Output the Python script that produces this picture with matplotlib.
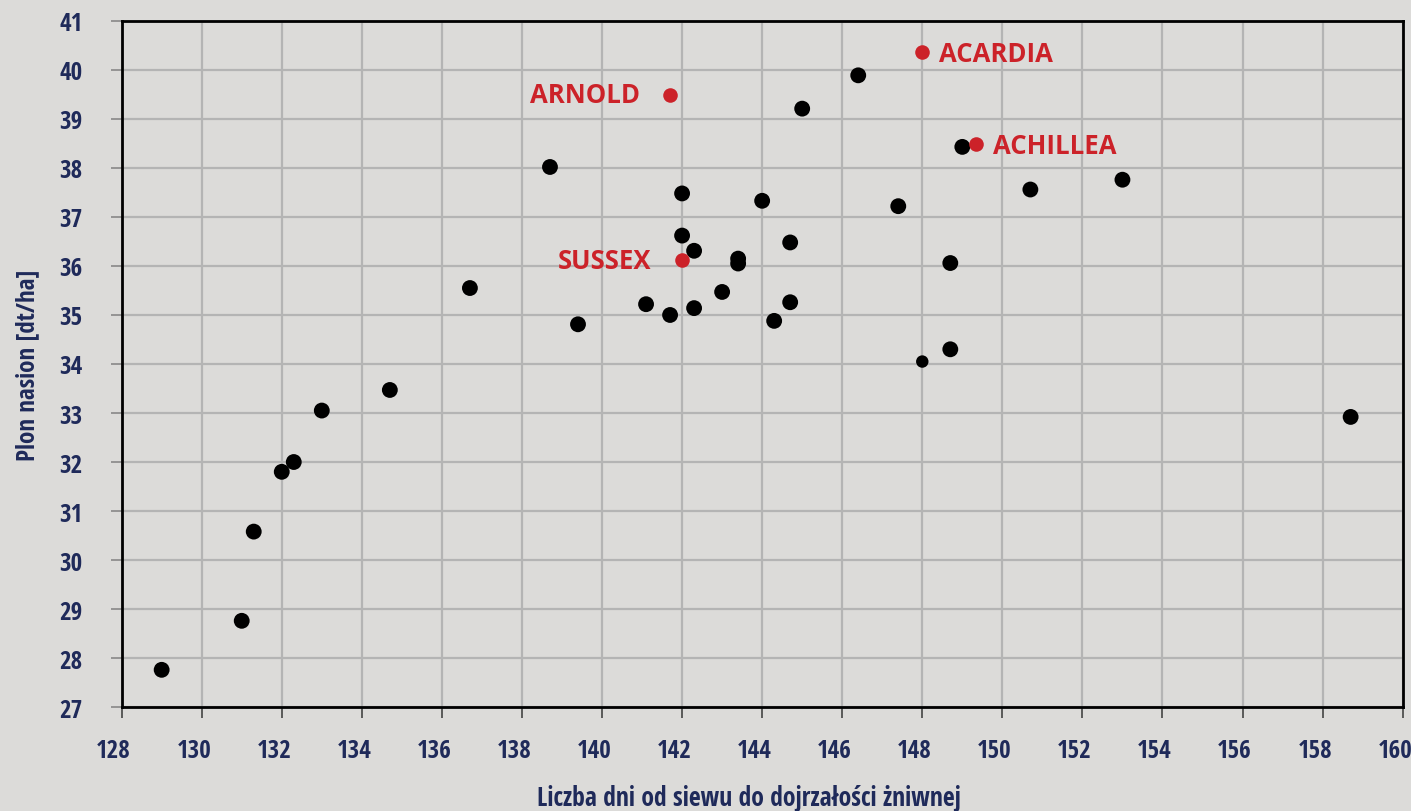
import matplotlib
matplotlib.use("Agg")
import matplotlib.pyplot as plt
import matplotlib.transforms as mtransforms

# black points: days from sowing to maturity, seed yield
days = [129.0, 131.0, 131.3, 132.0, 132.3, 133.0, 134.7, 136.7, 138.7, 139.4,
        141.1, 141.7, 142.0, 142.0, 142.3, 142.3, 143.0, 143.4, 143.4, 144.0,
        144.3, 144.7, 144.7, 145.0, 146.4, 147.4, 148.0, 148.7, 148.7, 149.0,
        150.7, 153.0, 158.7]
yields = [27.76, 28.76, 30.58, 31.80, 32.0, 33.05, 33.47, 35.55, 38.02, 34.81,
          35.22, 35.0, 37.48, 36.62, 36.31, 35.14, 35.47, 36.15, 36.05, 37.33,
          34.88, 36.48, 35.26, 39.21, 39.89, 37.22, 34.05, 36.06, 34.30, 38.43,
          37.56, 37.76, 32.92]
sizes = [130] * len(days)
sizes[26] = 80   # the smaller point near 148/34

# highlighted varieties
names = ["ARNOLD", "ACARDIA", "ACHILLEA", "SUSSEX"]
name_days = [141.7, 148.0, 149.35, 142.0]
name_yields = [39.49, 40.37, 38.48, 36.12]
name_side = ["left", "right", "right", "left"]

bg = "#dcdbd9"
navy = "#1f2a5a"
red = "#cc2229"
cond = ["Open Sans Condensed", "DejaVu Sans"]
bold = ["Open Sans", "DejaVu Sans"]

fig = plt.figure(figsize=(14.11, 8.12), dpi=100, facecolor=bg)
ax = fig.add_axes([0.0862, 0.128, 0.9079, 0.845])
ax.set_facecolor(bg)

ax.scatter(days, yields, s=sizes, color="black", zorder=3, linewidths=0)
ax.scatter(name_days, name_yields, s=110, color=red, zorder=4, linewidths=0)
for n, x, y, side in zip(names, name_days, name_yields, name_side):
    if side == "left":
        ax.annotate(n, (x, y), xytext=(-22, 0), textcoords="offset points",
                    ha="right", va="center", color=red, fontsize=18.5,
                    fontweight="bold", family=bold)
    else:
        ax.annotate(n, (x, y), xytext=(12, -1), textcoords="offset points",
                    ha="left", va="center", color=red, fontsize=18.5,
                    fontweight="bold", family=bold)

ax.set_xlim(128, 160)
ax.set_ylim(27, 41)
ax.set_xticks(range(128, 161, 2))
ax.set_yticks(range(27, 42))
ax.grid(True, color="#b4b4b4", linewidth=1.6, zorder=0)
ax.set_axisbelow(True)
for s in ax.spines.values():
    s.set_color("black")
    s.set_linewidth(2)
ax.tick_params(axis="x", length=8, width=1.2, color="#444444", pad=14)
ax.tick_params(axis="y", length=8, width=1.2, color="#888888", pad=20)
for lab in ax.get_xticklabels() + ax.get_yticklabels():
    lab.set_family(cond)
    lab.set_fontweight("bold")
    lab.set_fontsize(18)
    lab.set_color(navy)
# x tick labels sit a little left of their ticks in the original
shift = mtransforms.ScaledTranslation(-8 / 100, 0, fig.dpi_scale_trans)
for lab in ax.get_xticklabels():
    lab.set_transform(lab.get_transform() + shift)

ax.set_xlabel("Liczba dni od siewu do dojrzałości żniwnej", family=cond,
              fontweight="bold", fontsize=18.5, color=navy)
ax.xaxis.set_label_coords(0.49, -0.112)
ax.set_ylabel("Plon nasion [dt/ha]", family=cond, fontweight="bold",
              fontsize=18, color=navy, labelpad=14)

fig.savefig("out.png", dpi=100, facecolor=bg)
